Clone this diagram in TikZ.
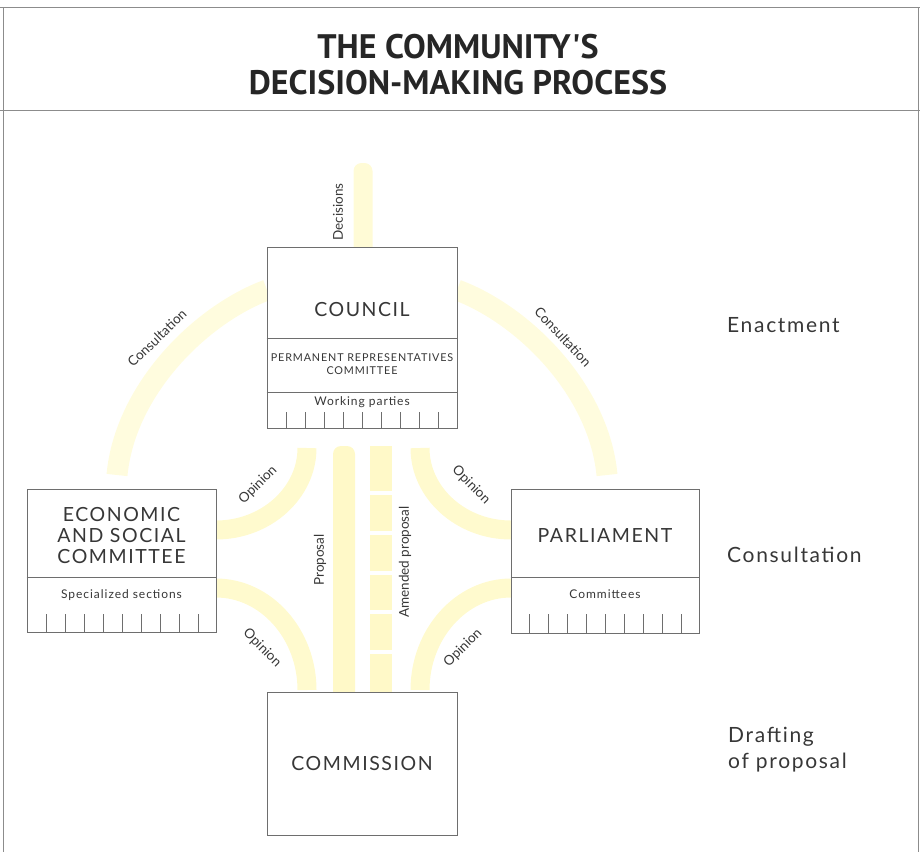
\documentclass[tikz,border=0pt]{standalone}
\usepackage{fontspec}
\newfontfamily\lab[LetterSpace=8]{Lato}
\newfontfamily\flab{Lato}
\newfontfamily\ttl{PT Sans}
\definecolor{framec}{RGB}{140,140,140}
\definecolor{boxc}{RGB}{110,110,110}
\definecolor{txtc}{RGB}{55,55,55}
\definecolor{consc}{RGB}{255,252,222}
\definecolor{decc}{RGB}{255,251,214}
\definecolor{opc}{RGB}{255,250,206}
\definecolor{propc}{RGB}{255,249,200}
\begin{document}
\begin{tikzpicture}[x=1pt,y=-1pt,
  frameline/.style={draw=framec,line width=0.8pt},
  boxline/.style={draw=boxc,line width=0.8pt},
  unitbox/.style={draw=boxc,line width=0.9pt,fill=white,inner sep=0pt},
  bigtxt/.style={font=\lab\fontsize{19.5}{21}\selectfont,text=txtc,inner sep=0pt,align=center},
  smalltxt/.style={font=\lab\fontsize{12}{14}\selectfont,text=txtc,inner sep=0pt,align=center},
  tinytxt/.style={font=\lab\fontsize{10.8}{13}\selectfont,text=txtc,inner sep=0pt,align=center},
  flowtxt/.style={font=\flab\fontsize{13.5}{15}\selectfont,text=txtc,inner sep=0pt},
  stagetxt/.style={font=\lab\fontsize{21}{26}\selectfont,text=txtc,inner sep=0pt,anchor=west,align=left},
  consband/.style={draw=consc,line width=21pt},
  opband/.style={draw=opc,line width=19pt},
]
\useasboundingbox (0,0) rectangle (920,852);
% frame
\draw[frameline] (0,7) -- (920,7);
\draw[frameline] (0,110) -- (920,110);
\draw[frameline] (3,7) -- (3,852);
\draw[frameline] (918,7) -- (918,852);
% title
\node[font=\ttl\bfseries\fontsize{34}{36}\selectfont,text=black!85,align=center,inner sep=0pt] (title) at (458,65) {THE COMMUNITY'S\\DECISION-MAKING PROCESS};

% anchor coordinates for bands
\coordinate (escTop) at (117,475);
\coordinate (councilL) at (267,290);
\coordinate (parlTop) at (607,475);
\coordinate (councilR) at (457,290);
\coordinate (escRU) at (216,530);
\coordinate (councilBL) at (307,448);
\coordinate (parlLU) at (511,530);
\coordinate (councilBR) at (420,448);
\coordinate (escRD) at (216,588);
\coordinate (commTL) at (307,690);
\coordinate (parlLD) at (511,588);
\coordinate (commTR) at (420,690);

% bands
\draw[consband] (escTop) .. controls (125,390) and (200,315) .. (councilL);
\draw[consband] (parlTop) .. controls (599,390) and (524,315) .. (councilR);
\draw[opband] (escRU) .. controls (266,530) and (307,493) .. (councilBL);
\draw[opband] (parlLU) .. controls (461,530) and (420,493) .. (councilBR);
\draw[opband] (escRD) .. controls (266,588) and (307,634) .. (commTL);
\draw[opband] (parlLD) .. controls (461,588) and (420,634) .. (commTR);
\fill[decc,rounded corners=8pt] (353.5,163) rectangle (372.5,260);
\fill[propc,rounded corners=8pt] (333,446) rectangle (355,700);
\foreach \a/\b in {446/491,495/531,535/571,575/610,614/650,654/700}
  \fill[propc] (370,\a) rectangle (392,\b);

% boxes
\node[unitbox,minimum width=190pt,minimum height=181pt] (council) at (362,337.5) {};
\node[unitbox,minimum width=189pt,minimum height=143pt] (esc) at (121.5,560.5) {};
\node[unitbox,minimum width=188pt,minimum height=144pt] (parl) at (605,561) {};
\node[unitbox,minimum width=190pt,minimum height=143pt] (comm) at (362,763.5) {};

% council inner structure
\draw[boxline] (council.west |- 0,338) -- (council.east |- 0,338);
\draw[boxline] (council.west |- 0,392) -- (council.east |- 0,392);
\foreach \i in {0,...,8} \draw[boxline] ({286+19*\i},412) -- ({286+19*\i},428);
\node[bigtxt] (counciltxt) at (362,310) {COUNCIL};
\node[tinytxt] (coreper) at (362,364) {PERMANENT REPRESENTATIVES\\COMMITTEE};
\node[smalltxt] (wp) at (362,402) {Working parties};

% ESC inner structure
\draw[boxline] (esc.west |- 0,577) -- (esc.east |- 0,577);
\foreach \i in {0,...,8} \draw[boxline] ({46+19*\i},614) -- ({46+19*\i},632);
\node[bigtxt] (esctxt) at (121.5,536) {ECONOMIC\\AND SOCIAL\\COMMITTEE};
\node[smalltxt] (spec) at (121.5,595) {Specialized sections};

% Parliament inner structure
\draw[boxline] (parl.west |- 0,577) -- (parl.east |- 0,577);
\foreach \i in {0,...,8} \draw[boxline] ({529+19*\i},614) -- ({529+19*\i},633);
\node[bigtxt] (parltxt) at (605,536) {PARLIAMENT};
\node[smalltxt] (cttee) at (605,594) {Committees};

% Commission
\node[bigtxt] (commtxt) at (362,763) {COMMISSION};

% flow labels
\node[flowtxt,rotate=90] (dec) at (338,212) {Decisions};
\node[flowtxt,rotate=44] (consL) at (157,338) {Consultation};
\node[flowtxt,rotate=-47] (consR) at (563,337) {Consultation};
\node[flowtxt,rotate=45] (opUL) at (258,485) {Opinion};
\node[flowtxt,rotate=-45] (opUR) at (471,485) {Opinion};
\node[flowtxt,rotate=-45] (opLL) at (262,648) {Opinion};
\node[flowtxt,rotate=45] (opLR) at (463,648) {Opinion};
\node[flowtxt,rotate=90] (prop) at (320,560) {Proposal};
\node[flowtxt,rotate=90] (amprop) at (405,562) {Amended proposal};

% stage labels
\node[stagetxt] (enact) at (727,325) {Enactment};
\node[stagetxt] (consult) at (727,555) {Consultation};
\node[stagetxt] (draft) at (728,750) {Drafting\\of proposal};
\end{tikzpicture}
\end{document}
